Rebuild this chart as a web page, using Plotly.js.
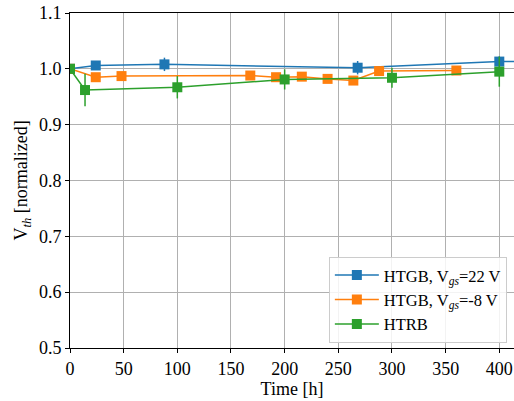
<!DOCTYPE html>
<html>
<head>
<meta charset="utf-8">
<script src="https://cdn.plot.ly/plotly-3.0.1.min.js"></script>
<style>html,body{margin:0;padding:0;background:#fff;}#chart{width:514px;height:401px;}</style>
</head>
<body>
<div id="chart"></div>
<script>
// Data
const blueName = 'HTGB, V<sub><i>gs</i></sub>=22 V';
const blueX = [0, 24, 88, 268, 400, 500];
const blueY = [1.0, 1.006, 1.008, 1.002, 1.013, 1.013];
const blueErr = [0.002, 0.008, 0.012, 0.012, 0.009, 0.009];

const orangeName = 'HTGB, V<sub><i>gs</i></sub>=-8 V';
const orangeX = [0, 24, 48, 168, 192, 216, 240, 264, 288, 360];
const orangeY = [1.0, 0.985, 0.987, 0.988, 0.985, 0.986, 0.982, 0.979, 0.996, 0.997];
const orangeErr = [0.002, 0.004, 0.003, 0.003, 0.003, 0.003, 0.003, 0.004, 0.003, 0.003];

const greenName = 'HTRB';
const greenX = [0, 14, 100, 200, 300, 400];
const greenY = [1.0, 0.962, 0.967, 0.981, 0.984, 0.995];
const greenErr = [0.003, 0.029, 0.02, 0.018, 0.018, 0.027];

const xTicks = [0, 50, 100, 150, 200, 250, 300, 350, 400];
const yTicks = [0.5, 0.6, 0.7, 0.8, 0.9, 1.0, 1.1];

function series(name, x, y, err, color) {
  return {
    type: 'scatter', mode: 'lines+markers', name: name, x: x, y: y,
    line: {color: color, width: 1.5},
    marker: {symbol: 'square', size: 10, color: color},
    error_y: {type: 'data', array: err, visible: true, color: color, thickness: 1.5, width: 0},
    cliponaxis: true
  };
}

const data = [
  series(blueName, blueX, blueY, blueErr, '#1f77b4'),
  series(orangeName, orangeX, orangeY, orangeErr, '#ff7f0e'),
  series(greenName, greenX, greenY, greenErr, '#2ca02c')
];

const fam = 'Liberation Serif';
const font = {family: fam, color: '#000', size: 18};

const layout = {
  width: 514, height: 401,
  margin: {l: 70, r: 0, t: 13, b: 53},
  paper_bgcolor: '#fff', plot_bgcolor: '#fff',
  font: font,
  showlegend: true,
  legend: {
    x: 0.583, y: 0.272, xanchor: 'left', yanchor: 'top',
    bgcolor: 'rgba(255,255,255,0.85)', bordercolor: '#cccccc', borderwidth: 1,
    font: {family: fam, size: 16.5, color: '#000'},
    itemwidth: 44,
    tracegroupgap: 0
  },
  xaxis: {
    range: [0, 413.7], tickvals: xTicks, ticktext: xTicks.map(String),
    tickfont: {family: fam, size: 18, color: '#000'},
    showgrid: true, gridcolor: '#b0b0b0', gridwidth: 1,
    zeroline: false, showline: true, linecolor: '#000', linewidth: 1, mirror: true,
    ticks: 'outside', ticklen: 4, tickcolor: '#000',
    title: {text: 'Time [h]', font: font, standoff: 2}
  },
  yaxis: {
    range: [0.5, 1.1], tickvals: yTicks, ticktext: yTicks.map(v => v.toFixed(1)),
    tickfont: {family: fam, size: 18, color: '#000'},
    showgrid: true, gridcolor: '#b0b0b0', gridwidth: 1,
    zeroline: false, showline: true, linecolor: '#000', linewidth: 1, mirror: false,
    ticks: 'outside', ticklen: 4, tickcolor: '#000',
    title: {text: 'V<sub><i>th</i></sub> [normalized]', font: font, standoff: 6}
  }
};

Plotly.newPlot('chart', data, layout, {displayModeBar: false, staticPlot: true});
</script>
</body>
</html>
